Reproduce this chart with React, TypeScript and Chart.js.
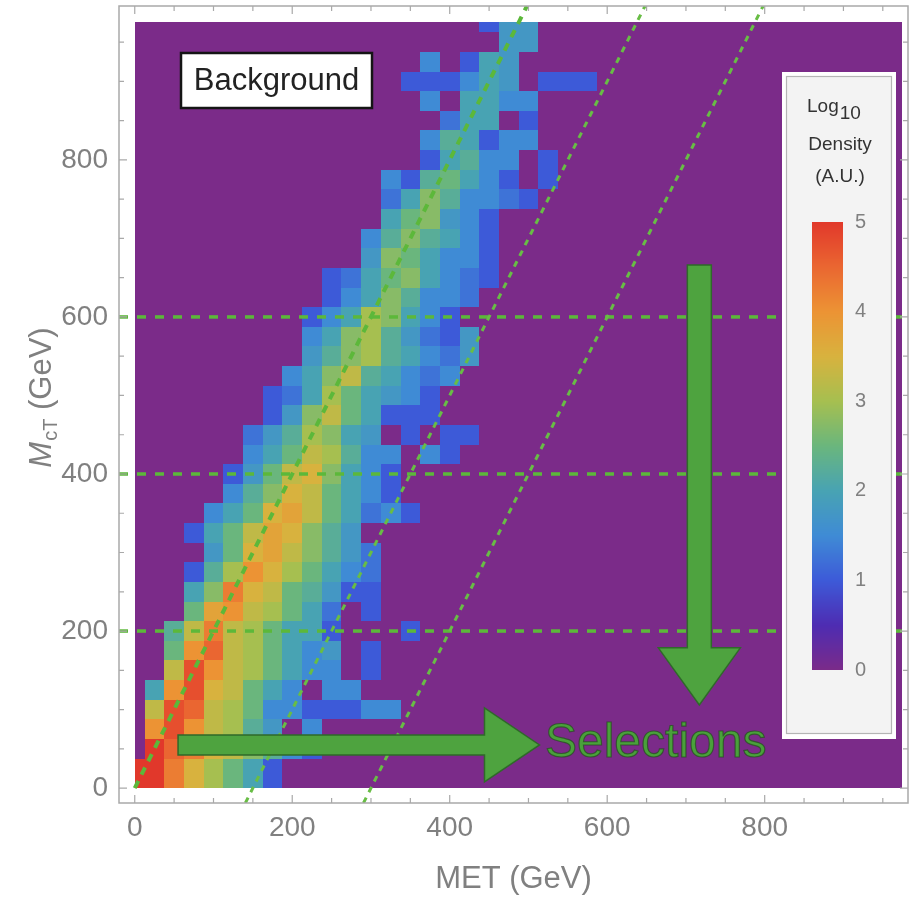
import React, { useEffect, useRef } from "react";
import { Chart, registerables } from "chart.js";

Chart.register(...registerables);

const WIDTH = 910;
const HEIGHT = 898;

// ---------- data ----------
const BIN_WIDTH = 25; // GeV, bins centred on multiples of 25
const HIST_MAX = 975; // GeV
const LEVEL_CODES = "0123456789ABCDEFGHIJK"; // index / 4 = log10 density
// row r -> MCT bin centred at 25*r GeV ; char c -> MET bin centred at 25*c GeV ; "." = empty
const densityRows: string[] = [
  "KKHECA84",
  "KKHECA84",
  ".KIHEDB964",
  ".GJGDC97.6",
  ".DJIDCA6644466",
  ".8GJEDA86.66",
  "..DJGDCA866.4",
  "..AGIDCA867.4",
  "..9DHDCA884...4",
  "...AFGDCA85.4",
  "...8BHEDA9744",
  "...49CGECA865",
  "....7AEFDB975",
  "...48ADFEB97",
  "....68AEFDA8564",
  ".....69BEDA864",
  ".....47ADEB864",
  "......68ADC966.64",
  "......579CB87.4.44",
  ".......47BDA8444",
  ".......458CA8764",
  "........68BD98656",
  ".........79BC98657",
  ".........68BC97547",
  ".........468CB864",
  "..........468B9665",
  "..........458AB8654",
  "............7BA8664",
  "............69B9864",
  ".............8AB764",
  ".............58B96654",
  ".............649A864.4",
  "...............48966.4",
  "...............698466",
  "................588.4",
  "...............6.8866",
  "..............444687.444",
  "...............6.487",
  "...................77",
  "..................477",
];

const xTickValues = [0, 200, 400, 600, 800];
const yTickValues = [0, 200, 400, 600, 800];
const MINOR_STEP = 50;
const selectionOffsets = [0, 150, 300]; // MCT = 2 (MET - offset)
const selectionStarts = [0, -19, -19];
const mctCuts = [200, 400, 600];
const colorbarTicks = [0, 1, 2, 3, 4, 5];
const colorStops: [number, string][] = [
  [0, "#7b2b89"],
  [0.5, "#4e2cb2"],
  [1, "#3d5ad8"],
  [1.5, "#3f8bd5"],
  [2, "#48a3b3"],
  [2.5, "#6ab67d"],
  [3, "#a6bf50"],
  [3.5, "#d8b23e"],
  [4, "#ec9334"],
  [4.5, "#ea6631"],
  [5, "#e1382b"],
];

const X_MIN = -20;
const X_MAX = 982;
const Y_MIN = -19;
const Y_MAX = 996;

const FONT = '"Liberation Sans", Arial, sans-serif';
const GRAY = "#808080";
const GREEN = "#5cb83a";

// ---------- helpers ----------
function hexToRgb(h: string) {
  const n = parseInt(h.slice(1), 16);
  return [(n >> 16) & 255, (n >> 8) & 255, n & 255];
}
function colorFor(v: number) {
  if (v <= colorStops[0][0]) return colorStops[0][1];
  for (let i = 1; i < colorStops.length; i++) {
    const [v1, c1] = colorStops[i];
    if (v <= v1) {
      const [v0, c0] = colorStops[i - 1];
      const t = (v - v0) / (v1 - v0);
      const a = hexToRgb(c0);
      const b = hexToRgb(c1);
      const m = a.map((x, k) => Math.round(x + (b[k] - x) * t));
      return `rgb(${m[0]},${m[1]},${m[2]})`;
    }
  }
  return colorStops[colorStops.length - 1][1];
}

function buildCells() {
  const cells: { x: number; y: number; v: number }[] = [];
  densityRows.forEach((row, r) => {
    for (let c = 0; c < row.length; c++) {
      const ch = row[c];
      if (ch === ".") continue;
      cells.push({ x: c * BIN_WIDTH, y: r * BIN_WIDTH, v: LEVEL_CODES.indexOf(ch) / 4 });
    }
  });
  return cells;
}

const heatmapPlugin = {
  id: "heatmap",
  beforeDatasetsDraw(chart: any) {
    const { ctx, chartArea: a } = chart;
    const xs = chart.scales.x;
    const ys = chart.scales.y;
    ctx.save();
    ctx.beginPath();
    ctx.rect(a.left, a.top, a.right - a.left, a.bottom - a.top);
    ctx.clip();
    const L = Math.round(xs.getPixelForValue(0));
    const R = Math.round(xs.getPixelForValue(HIST_MAX));
    const T = Math.round(ys.getPixelForValue(HIST_MAX));
    const B = Math.round(ys.getPixelForValue(0));
    ctx.fillStyle = colorFor(0);
    ctx.fillRect(L, T, R - L, B - T);
    const cells = chart.data.datasets[0].data;
    for (const c of cells) {
      const x0 = Math.max(0, c.x - BIN_WIDTH / 2);
      const x1 = Math.min(HIST_MAX, c.x + BIN_WIDTH / 2);
      const y0 = Math.max(0, c.y - BIN_WIDTH / 2);
      const y1 = Math.min(HIST_MAX, c.y + BIN_WIDTH / 2);
      const px0 = Math.round(xs.getPixelForValue(x0));
      const px1 = Math.round(xs.getPixelForValue(x1));
      const py0 = Math.round(ys.getPixelForValue(y1));
      const py1 = Math.round(ys.getPixelForValue(y0));
      ctx.fillStyle = colorFor(c.v);
      ctx.fillRect(px0, py0, px1 - px0, py1 - py0);
    }
    ctx.restore();
  },
};

function arrowPath(ctx: CanvasRenderingContext2D, x0: number, y0: number, x1: number, y1: number, bodyHalf: number, headHalf: number, headLen: number) {
  const dx = x1 - x0;
  const dy = y1 - y0;
  const len = Math.hypot(dx, dy);
  const ux = dx / len;
  const uy = dy / len;
  const nx = -uy;
  const ny = ux;
  const bx = x1 - ux * headLen;
  const by = y1 - uy * headLen;
  ctx.beginPath();
  ctx.moveTo(x0 + nx * bodyHalf, y0 + ny * bodyHalf);
  ctx.lineTo(bx + nx * bodyHalf, by + ny * bodyHalf);
  ctx.lineTo(bx + nx * headHalf, by + ny * headHalf);
  ctx.lineTo(x1, y1);
  ctx.lineTo(bx - nx * headHalf, by - ny * headHalf);
  ctx.lineTo(bx - nx * bodyHalf, by - ny * bodyHalf);
  ctx.lineTo(x0 - nx * bodyHalf, y0 - ny * bodyHalf);
  ctx.closePath();
}

// annotation anchors (data units)
const hArrow = { from: [55, 55], to: [514, 55] };
const vArrow = { from: [717, 666], to: [717, 106] };
const selectionLabel = { x: 521, y: 39, text: "Selections" };

const overlayPlugin = {
  id: "overlay",
  afterDatasetsDraw(chart: any) {
    const { ctx } = chart;
    const xs = chart.scales.x;
    const ys = chart.scales.y;
    const P = (p: number[]) => [xs.getPixelForValue(p[0]), ys.getPixelForValue(p[1])];
    ctx.save();
    // arrows
    ctx.fillStyle = "#4ea33f";
    ctx.strokeStyle = "#2f6a2a";
    ctx.lineWidth = 1.5;
    let a = P(hArrow.from);
    let b = P(hArrow.to);
    arrowPath(ctx, a[0], a[1], b[0], b[1], 10, 37, 55);
    ctx.fill();
    ctx.stroke();
    a = P(vArrow.from);
    b = P(vArrow.to);
    arrowPath(ctx, a[0], a[1], b[0], b[1], 12, 41, 57);
    ctx.fill();
    ctx.stroke();
    // Selections text
    const sp = P([selectionLabel.x, selectionLabel.y]);
    ctx.font = `48px ${FONT}`;
    ctx.textAlign = "left";
    ctx.textBaseline = "alphabetic";
    ctx.fillStyle = "#4aa03b";
    ctx.fillText(selectionLabel.text, sp[0], sp[1]);
    ctx.strokeStyle = "rgba(35,75,30,0.7)";
    ctx.lineWidth = 1.2;
    ctx.strokeText(selectionLabel.text, sp[0], sp[1]);

    // Background label box
    ctx.fillStyle = "#ffffff";
    ctx.fillRect(181, 53, 191, 55);
    ctx.strokeStyle = "#151515";
    ctx.lineWidth = 2.5;
    ctx.strokeRect(181, 53, 191, 55);
    ctx.fillStyle = "#222222";
    ctx.font = `31px ${FONT}`;
    ctx.textAlign = "center";
    ctx.textBaseline = "middle";
    ctx.fillText("Background", 276.5, 81);

    // colour-bar legend
    ctx.fillStyle = "#ffffff";
    ctx.fillRect(782, 72, 114, 667);
    ctx.fillStyle = "#f3f3f3";
    ctx.fillRect(786, 76, 106, 658);
    ctx.strokeStyle = "#b5b5b5";
    ctx.lineWidth = 1.2;
    ctx.strokeRect(786.5, 76.5, 105, 657);
    ctx.fillStyle = "#333333";
    ctx.font = `19px ${FONT}`;
    ctx.textAlign = "left";
    ctx.textBaseline = "alphabetic";
    ctx.fillText("Log", 807, 112);
    const wLog = ctx.measureText("Log").width;
    ctx.fillText("10", 807 + wLog + 1, 119);
    ctx.textAlign = "center";
    ctx.fillText("Density", 840, 150);
    ctx.fillText("(A.U.)", 840, 182);
    const barTop = 222;
    const barBottom = 670;
    const barL = 812;
    const barR = 843;
    const vmax = colorbarTicks[colorbarTicks.length - 1];
    for (let yy = barTop; yy < barBottom; yy++) {
      const v = ((barBottom - (yy + 0.5)) / (barBottom - barTop)) * vmax;
      ctx.fillStyle = colorFor(v);
      ctx.fillRect(barL, yy, barR - barL, 1);
    }
    ctx.fillStyle = GRAY;
    ctx.font = `20px ${FONT}`;
    ctx.textAlign = "left";
    ctx.textBaseline = "middle";
    for (const t of colorbarTicks) {
      const yy = barBottom - (t / vmax) * (barBottom - barTop);
      ctx.fillText(String(t), 855, yy);
    }
    ctx.restore();
  },
  afterDraw(chart: any) {
    const { ctx, chartArea: ar } = chart;
    const xs = chart.scales.x;
    const ys = chart.scales.y;
    ctx.save();
    // frame
    ctx.strokeStyle = "#a9a9a9";
    ctx.lineWidth = 1.5;
    ctx.strokeRect(ar.left, ar.top, ar.right - ar.left, ar.bottom - ar.top);
    ctx.lineWidth = 1.2;
    ctx.beginPath();
    for (let v = 0; v <= X_MAX; v += MINOR_STEP) {
      const px = xs.getPixelForValue(v);
      const len = v % 200 === 0 ? 8 : 5;
      ctx.moveTo(px, ar.bottom);
      ctx.lineTo(px, ar.bottom - len);
      ctx.moveTo(px, ar.top);
      ctx.lineTo(px, ar.top + len);
    }
    for (let v = 0; v <= Y_MAX; v += MINOR_STEP) {
      const py = ys.getPixelForValue(v);
      const len = v % 200 === 0 ? 8 : 5;
      ctx.moveTo(ar.left, py);
      ctx.lineTo(ar.left + len, py);
      ctx.moveTo(ar.right, py);
      ctx.lineTo(ar.right - len, py);
    }
    ctx.stroke();

    // y title  M_cT (GeV)
    ctx.translate(40, 398);
    ctx.rotate(-Math.PI / 2);
    ctx.fillStyle = GRAY;
    ctx.textBaseline = "alphabetic";
    ctx.textAlign = "left";
    const fM = `italic 31px ${FONT}`;
    const fS = `20px ${FONT}`;
    const fR = `31px ${FONT}`;
    ctx.font = fM;
    const wM = ctx.measureText("M").width;
    ctx.font = fS;
    const wS = ctx.measureText("cT").width;
    ctx.font = fR;
    const wR = ctx.measureText(" (GeV)").width;
    let cx = -(wM + wS + wR) / 2;
    ctx.font = fM;
    ctx.fillText("M", cx, 11);
    cx += wM + 1;
    ctx.font = fS;
    ctx.fillText("cT", cx, 17);
    cx += wS;
    ctx.font = fR;
    ctx.fillText(" (GeV)", cx, 11);
    ctx.restore();
  },
};

export default function App() {
  const ref = useRef<HTMLCanvasElement | null>(null);
  useEffect(() => {
    if (!ref.current) return;
    const cells = buildCells();
    const lineBase = {
      type: "line" as const,
      showLine: true,
      pointRadius: 0,
      pointHoverRadius: 0,
      fill: false,
      tension: 0,
    };
    const diagSets = selectionOffsets.map((off, i) => ({
      ...lineBase,
      label: `diag${i}`,
      data: [
        { x: off + selectionStarts[i] / 2, y: selectionStarts[i] },
        { x: off + Y_MAX / 2, y: Y_MAX },
      ],
      borderColor: i === 0 ? GREEN : "#68bd45",
      borderWidth: i === 0 ? 4 : 3,
      borderDash: i === 0 ? [8, 7] : [6, 6],
    }));
    const cutSets = mctCuts.map((c, i) => ({
      ...lineBase,
      label: `cut${i}`,
      data: [
        { x: X_MIN, y: c },
        { x: X_MAX, y: c },
      ],
      borderColor: GREEN,
      borderWidth: 3.5,
      borderDash: [9, 9],
    }));
    const chart = new Chart(ref.current, {
      type: "scatter",
      data: {
        datasets: [
          { label: "density", data: cells, pointRadius: 0, pointHoverRadius: 0, showLine: false } as any,
          ...diagSets,
          ...cutSets,
        ],
      },
      options: {
        animation: false,
        responsive: false,
        devicePixelRatio: 1,
        events: [],
        layout: { padding: { left: 0, right: 2, top: 6, bottom: 0 } },
        plugins: { legend: { display: false }, tooltip: { enabled: false } },
        scales: {
          x: {
            type: "linear",
            min: X_MIN,
            max: X_MAX,
            afterBuildTicks: (s: any) => {
              s.ticks = xTickValues.map((value) => ({ value }));
            },
            afterFit: (s: any) => {
              s.height = 95;
              s.paddingLeft = 0;
              s.paddingRight = 0;
            },
            grid: { display: false, drawTicks: false },
            border: { display: false },
            ticks: {
              color: GRAY,
              font: { family: FONT, size: 28 },
              padding: 8,
              maxRotation: 0,
              autoSkip: false,
            },
            title: {
              display: true,
              text: "MET (GeV)",
              color: GRAY,
              font: { family: FONT, size: 31, lineHeight: 1.2 },
              padding: { top: 0, bottom: 0 },
            },
          },
          y: {
            type: "linear",
            min: Y_MIN,
            max: Y_MAX,
            afterBuildTicks: (s: any) => {
              s.ticks = yTickValues.map((value) => ({ value }));
            },
            afterFit: (s: any) => {
              s.width = 119;
              s.paddingTop = 0;
              s.paddingBottom = 0;
            },
            grid: { display: false, drawTicks: false },
            border: { display: false },
            ticks: {
              color: GRAY,
              font: { family: FONT, size: 28 },
              padding: 11,
              autoSkip: false,
            },
          },
        },
      } as any,
      plugins: [heatmapPlugin, overlayPlugin],
    });
    return () => chart.destroy();
  }, []);
  return (
    <div style={{ position: "fixed", left: 0, top: 0, width: WIDTH, height: HEIGHT, background: "#ffffff" }}>
      <canvas ref={ref} width={WIDTH} height={HEIGHT} style={{ display: "block", width: WIDTH, height: HEIGHT }} />
    </div>
  );
}
